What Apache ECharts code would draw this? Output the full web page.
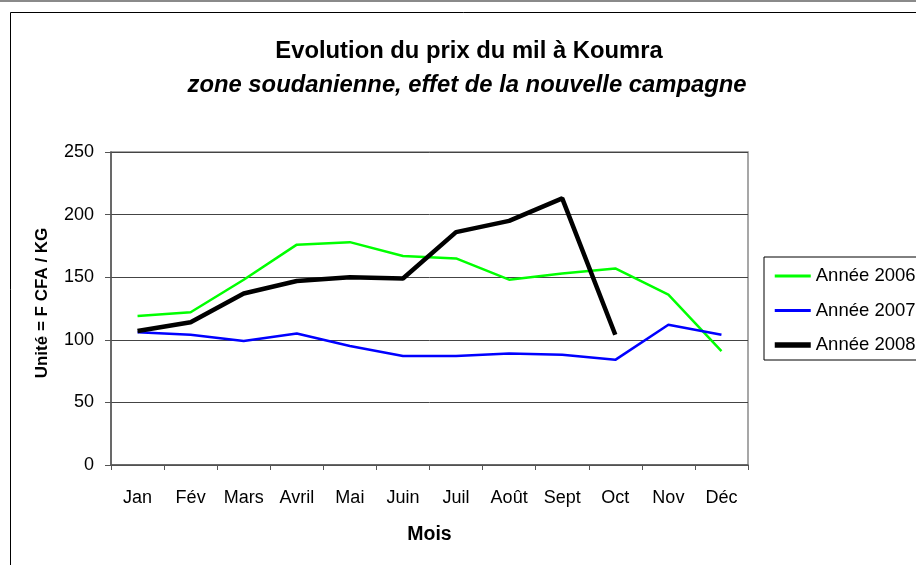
<!DOCTYPE html>
<html>
<head>
<meta charset="utf-8">
<script src="https://cdn.jsdelivr.net/npm/echarts@6/dist/echarts.min.js"></script>
<style>
html,body{margin:0;padding:0;background:#fff;}
#chart{width:916px;height:565px;}
</style>
</head>
<body>
<div id="chart"></div>
<script>
const months = ['Jan','Fév','Mars','Avril','Mai','Juin','Juil','Août','Sept','Oct','Nov','Déc'];
const annee2006 = [119, 122, 148, 176, 178, 167, 165, 148, 153, 157, 136, 91];
const annee2007 = [106, 104, 99, 105, 95, 87, 87, 89, 88, 84, 112, 104];
const annee2008 = [107, 114, 137, 147, 150, 149, 186, 195, 213, 104, null, null];
const yTicks = [0, 50, 100, 150, 200, 250];

const FONT = '"Liberation Sans", Arial, sans-serif';
const chart = echarts.init(document.getElementById('chart'));
chart.setOption({
  animation: false,
  backgroundColor: '#fff',
  graphic: [
    { type: 'line', shape: {x1: 0, y1: 1, x2: 916, y2: 1}, style: {stroke: '#8a8a8a', lineWidth: 2} },
    { type: 'rect', shape: {x: 10.5, y: 12.5, width: 1000, height: 1000}, style: {fill: 'none', stroke: '#000', lineWidth: 1} }
  ],
  title: [
    { text: 'Evolution du prix du mil à Koumra', left: 464, top: 34, textAlign: 'center',
      textStyle: {fontFamily: FONT, fontSize: 23.8, fontWeight: 'bold', color: '#000'} },
    { text: 'zone soudanienne, effet de la nouvelle campagne', left: 462, top: 68, textAlign: 'center',
      textStyle: {fontFamily: FONT, fontSize: 23.8, fontWeight: 'bold', fontStyle: 'italic', color: '#000'} }
  ],
  legend: {
    left: 764, top: 257, orient: 'vertical',
    padding: [9, 40, 5, 8],
    borderColor: '#000', borderWidth: 1,
    itemWidth: 36, itemHeight: 14, itemGap: 14.5,
    itemStyle: {opacity: 0},
    textStyle: {fontFamily: FONT, fontSize: 18.5, color: '#000', lineHeight: 20},
    data: [
      {name: 'Année 2006', lineStyle: {width: 3}},
      {name: 'Année 2007', lineStyle: {width: 3}},
      {name: 'Année 2008', lineStyle: {width: 5.5}}
    ]
  },
  grid: { left: 111, top: 152, right: 168, bottom: 100, show: true, borderColor: '#8a8a8a', borderWidth: 1.5 },
  xAxis: {
    type: 'category', data: months, boundaryGap: true,
    name: 'Mois', nameLocation: 'middle', nameGap: 60,
    nameTextStyle: {fontFamily: FONT, fontSize: 19.5, fontWeight: 'bold', color: '#000'},
    axisLine: {lineStyle: {color: '#555', width: 1.5}},
    axisTick: {show: true, length: 5, lineStyle: {color: '#555'}},
    axisLabel: {fontFamily: FONT, fontSize: 18, color: '#000', margin: 24}
  },
  yAxis: {
    type: 'value', min: yTicks[0], max: yTicks[yTicks.length - 1], interval: 50,
    name: 'Unité = F CFA / KG', nameLocation: 'middle', nameGap: 60, nameRotate: 90,
    nameTextStyle: {fontFamily: FONT, fontSize: 17, fontWeight: 'bold', color: '#000', padding: [0, 0, 0, 11]},
    axisLine: {show: true, lineStyle: {color: '#555', width: 1.5}},
    axisTick: {show: true, length: 6, lineStyle: {color: '#555'}},
    axisLabel: {fontFamily: FONT, fontSize: 18, color: '#000', margin: 17},
    splitLine: {lineStyle: {color: '#444', width: 1}}
  },
  series: [
    { name: 'Année 2006', type: 'line', data: annee2006, symbol: 'none', color: '#00ff00',
      lineStyle: {color: '#00ff00', width: 2.5} },
    { name: 'Année 2007', type: 'line', data: annee2007, symbol: 'none', color: '#0000ff',
      lineStyle: {color: '#0000ff', width: 2.5} },
    { name: 'Année 2008', type: 'line', data: annee2008, symbol: 'none', color: '#000000',
      lineStyle: {color: '#000000', width: 4.5} }
  ]
});
</script>
</body>
</html>
